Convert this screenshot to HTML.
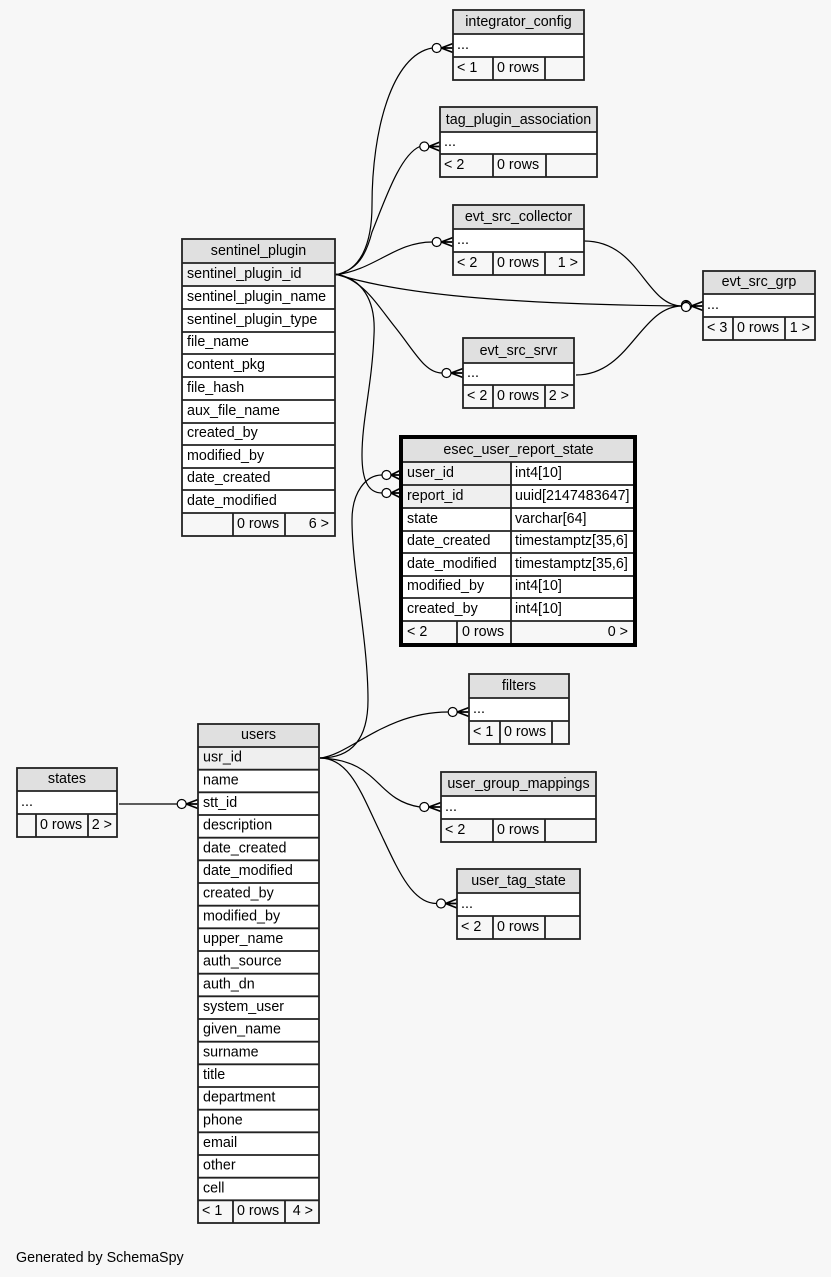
<!DOCTYPE html>
<html><head><meta charset="utf-8"><style>
html,body{margin:0;padding:0;background:#f7f7f7;}
svg{display:block;}
text{font-family:"Liberation Sans",Arial,sans-serif;font-size:14.3px;fill:#000;}
.c{text-anchor:middle}.r{text-anchor:end}
.b{fill:none;stroke:#222;stroke-width:1.8}
.e{fill:none;stroke:#000;stroke-width:1.2}
.m{fill:#fff;stroke:#000;stroke-width:1.2}
.cf{fill:none;stroke:#000;stroke-width:1.7}
.h{fill:#e0e0e0}.k{fill:#efefef}.w{fill:#fff}.f{fill:#f7f7f7}
</style></head><body>
<svg width="831" height="1277" viewBox="0 0 831 1277" xmlns="http://www.w3.org/2000/svg">
<rect x="0" y="0" width="831" height="1277" fill="#f7f7f7"/>

<!-- edges -->
<path class="e" d="M335,275 C360,271 372,245 372,205 C372,130 392,55 432.2,48"/>
<path class="e" d="M335,275 C358,270 366,255 372,232 C385,200 400,155 419.8,146.5"/>
<path class="e" d="M335,275 C375,270 395,242 432.2,242"/>
<path class="e" d="M335,274 C390,291 480,304 682.2,306"/>
<path class="e" d="M335,274 C362,279 376,303 395,327 C415,352 425,373 442,373"/>
<path class="e" d="M335,274 C362,278 376,300 374,335 C372,385 362,420 362,455 C362,480 368,493 382,493"/>
<path class="e" d="M320,758 C355,758 368,735 368,700 C368,640 352,570 352,520 C352,492 366,475 382,475"/>
<path class="e" d="M320,758 C350,755 385,712 448.2,712"/>
<path class="e" d="M320,758 C380,760 375,800 419.8,807"/>
<path class="e" d="M320,758 C350,758 362,795 380,832 C398,870 412,903.5 436.5,903.5"/>
<path class="e" d="M119,804 L177.2,804"/>
<path class="e" d="M584,241 C640,241 645,306 682.2,306"/>
<path class="e" d="M576,375 C630,375 640,306 682.2,306"/>

<!-- markers -->
<circle class="m" cx="436.7" cy="48" r="4.5"/><path class="cf" d="M441.2,48L453,43.5M441.2,48L453,48M441.2,48L453,52.5"/>
<circle class="m" cx="424.3" cy="146.5" r="4.5"/><path class="cf" d="M428.8,146.5L440,142M428.8,146.5L440,146.5M428.8,146.5L440,151"/>
<circle class="m" cx="436.7" cy="242" r="4.5"/><path class="cf" d="M441.2,242L453,237.5M441.2,242L453,242M441.2,242L453,246.5"/>
<circle class="m" cx="686" cy="305" r="4.5"/><circle class="m" cx="687" cy="306" r="4.5"/><circle class="m" cx="686" cy="307" r="4.5"/><path class="cf" d="M691.2,306L703,301.5M691.2,306L703,306M691.2,306L703,310.5"/>
<circle class="m" cx="446.5" cy="373" r="4.5"/><path class="cf" d="M451,373L463,368.5M451,373L463,373M451,373L463,377.5"/>
<circle class="m" cx="386.5" cy="475" r="4.5"/><path class="cf" d="M391,475L400,470.5M391,475L400,475M391,475L400,479.5"/>
<circle class="m" cx="386.5" cy="493" r="4.5"/><path class="cf" d="M391,493L400,488.5M391,493L400,493M391,493L400,497.5"/>
<circle class="m" cx="452.7" cy="712" r="4.5"/><path class="cf" d="M457.2,712L469,707.5M457.2,712L469,712M457.2,712L469,716.5"/>
<circle class="m" cx="424.3" cy="807" r="4.5"/><path class="cf" d="M428.8,807L441,802.5M428.8,807L441,807M428.8,807L441,811.5"/>
<circle class="m" cx="441" cy="903.5" r="4.5"/><path class="cf" d="M445.5,903.5L457,899M445.5,903.5L457,903.5M445.5,903.5L457,908"/>
<circle class="m" cx="181.7" cy="804" r="4.5"/><path class="cf" d="M186.2,804L198,799.5M186.2,804L198,804M186.2,804L198,808.5"/>

<!-- integrator_config -->
<rect class="h" x="453" y="10" width="131" height="24"/><rect class="w" x="453" y="34" width="131" height="23"/><rect class="f" x="453" y="57" width="131" height="23"/>
<rect class="b" x="453" y="10" width="131" height="70"/>
<path class="b" d="M453,34H584M453,57H584M493,57V80M545,57V80"/>
<text class="c" x="518.5" y="26">integrator_config</text><text x="457" y="49">...</text><text x="457" y="72">&lt; 1</text><text x="497" y="72">0 rows</text>

<!-- tag_plugin_association -->
<rect class="h" x="440" y="107" width="157" height="25"/><rect class="w" x="440" y="132" width="157" height="22"/><rect class="f" x="440" y="154" width="157" height="23"/>
<rect class="b" x="440" y="107" width="157" height="70"/>
<path class="b" d="M440,132H597M440,154H597M493,154V177M546,154V177"/>
<text class="c" x="518.5" y="124">tag_plugin_association</text><text x="444" y="146">...</text><text x="444" y="169">&lt; 2</text><text x="497" y="169">0 rows</text>

<!-- evt_src_collector -->
<rect class="h" x="453" y="205" width="131" height="24"/><rect class="w" x="453" y="229" width="131" height="23"/><rect class="f" x="453" y="252" width="131" height="23"/>
<rect class="b" x="453" y="205" width="131" height="70"/>
<path class="b" d="M453,229H584M453,252H584M493,252V275M545,252V275"/>
<text class="c" x="518.5" y="221">evt_src_collector</text><text x="457" y="244">...</text><text x="457" y="267">&lt; 2</text><text x="497" y="267">0 rows</text><text class="r" x="578" y="267">1 &gt;</text>

<!-- evt_src_grp -->
<rect class="h" x="703" y="271" width="112" height="23"/><rect class="w" x="703" y="294" width="112" height="23"/><rect class="f" x="703" y="317" width="112" height="23"/>
<rect class="b" x="703" y="271" width="112" height="69"/>
<path class="b" d="M703,294H815M703,317H815M733,317V340M785,317V340"/>
<text class="c" x="759" y="286">evt_src_grp</text><text x="707" y="309">...</text><text x="707" y="332">&lt; 3</text><text x="737" y="332">0 rows</text><text class="r" x="810" y="332">1 &gt;</text>

<!-- evt_src_srvr -->
<rect class="h" x="463" y="338" width="111" height="25"/><rect class="w" x="463" y="363" width="111" height="22"/><rect class="f" x="463" y="385" width="111" height="23"/>
<rect class="b" x="463" y="338" width="111" height="70"/>
<path class="b" d="M463,363H574M463,385H574M493,385V408M545,385V408"/>
<text class="c" x="518.5" y="355">evt_src_srvr</text><text x="467" y="377">...</text><text x="467" y="400">&lt; 2</text><text x="497" y="400">0 rows</text><text class="r" x="569" y="400">2 &gt;</text>

<!-- sentinel_plugin -->
<rect class="h" x="182" y="239" width="153" height="24"/><rect class="k" x="182" y="263" width="153" height="23"/><rect class="w" x="182" y="286" width="153" height="227"/><rect class="f" x="182" y="513" width="153" height="23"/>
<rect class="b" x="182" y="239" width="153" height="297"/>
<path class="b" d="M182,263H335M182,286H335M182,309H335M182,332H335M182,354H335M182,377H335M182,400H335M182,423H335M182,445H335M182,468H335M182,490H335M182,513H335M233,513V536M285,513V536"/>
<text class="c" x="258.5" y="255">sentinel_plugin</text>
<text x="187" y="278">sentinel_plugin_id</text>
<text x="187" y="301">sentinel_plugin_name</text>
<text x="187" y="324">sentinel_plugin_type</text>
<text x="187" y="346">file_name</text>
<text x="187" y="369">content_pkg</text>
<text x="187" y="392">file_hash</text>
<text x="187" y="415">aux_file_name</text>
<text x="187" y="437">created_by</text>
<text x="187" y="460">modified_by</text>
<text x="187" y="482">date_created</text>
<text x="187" y="505">date_modified</text>
<text x="237" y="528">0 rows</text><text class="r" x="329" y="528">6 &gt;</text>

<!-- esec_user_report_state -->
<rect class="h" x="403" y="439" width="231" height="23"/>
<rect class="k" x="403" y="462" width="108" height="46"/><rect class="w" x="511" y="462" width="123" height="46"/>
<rect class="w" x="403" y="508" width="231" height="113"/><rect class="f" x="403" y="621" width="231" height="23"/>
<path class="b" d="M403,462H634M403,485H634M403,508H634M403,531H634M403,553H634M403,576H634M403,598H634M403,621H634M511,462V644M457,621V644"/>
<rect x="401" y="437" width="234" height="208" fill="none" stroke="#000" stroke-width="4"/>
<text class="c" x="518.5" y="454">esec_user_report_state</text>
<text x="407" y="477">user_id</text><text x="515" y="477">int4[10]</text>
<text x="407" y="500">report_id</text><text x="515" y="500">uuid[2147483647]</text>
<text x="407" y="523">state</text><text x="515" y="523">varchar[64]</text>
<text x="407" y="545">date_created</text><text x="515" y="545">timestamptz[35,6]</text>
<text x="407" y="568">date_modified</text><text x="515" y="568">timestamptz[35,6]</text>
<text x="407" y="590">modified_by</text><text x="515" y="590">int4[10]</text>
<text x="407" y="613">created_by</text><text x="515" y="613">int4[10]</text>
<text x="407" y="636">&lt; 2</text><text x="462" y="636">0 rows</text><text class="r" x="628" y="636">0 &gt;</text>

<!-- filters -->
<rect class="h" x="469" y="674" width="100" height="24"/><rect class="w" x="469" y="698" width="100" height="23"/><rect class="f" x="469" y="721" width="100" height="23"/>
<rect class="b" x="469" y="674" width="100" height="70"/>
<path class="b" d="M469,698H569M469,721H569M500,721V744M552,721V744"/>
<text class="c" x="519" y="690">filters</text><text x="473" y="713">...</text><text x="473" y="736">&lt; 1</text><text x="504" y="736">0 rows</text>

<!-- user_group_mappings -->
<rect class="h" x="441" y="772" width="155" height="24"/><rect class="w" x="441" y="796" width="155" height="23"/><rect class="f" x="441" y="819" width="155" height="23"/>
<rect class="b" x="441" y="772" width="155" height="70"/>
<path class="b" d="M441,796H596M441,819H596M493,819V842M545,819V842"/>
<text class="c" x="518.5" y="788">user_group_mappings</text><text x="445" y="811">...</text><text x="445" y="834">&lt; 2</text><text x="497" y="834">0 rows</text>

<!-- user_tag_state -->
<rect class="h" x="457" y="869" width="123" height="24"/><rect class="w" x="457" y="893" width="123" height="23"/><rect class="f" x="457" y="916" width="123" height="23"/>
<rect class="b" x="457" y="869" width="123" height="70"/>
<path class="b" d="M457,893H580M457,916H580M493,916V939M545,916V939"/>
<text class="c" x="518.5" y="885">user_tag_state</text><text x="461" y="908">...</text><text x="461" y="931">&lt; 2</text><text x="497" y="931">0 rows</text>

<!-- states -->
<rect class="h" x="17" y="768" width="100" height="23"/><rect class="w" x="17" y="791" width="100" height="23"/><rect class="f" x="17" y="814" width="100" height="23"/>
<rect class="b" x="17" y="768" width="100" height="69"/>
<path class="b" d="M17,791H117M17,814H117M36,814V837M88,814V837"/>
<text class="c" x="67" y="783">states</text><text x="21" y="806">...</text><text x="40" y="829">0 rows</text><text class="r" x="112" y="829">2 &gt;</text>

<!-- users -->
<rect class="h" x="198" y="724" width="121" height="23"/><rect class="k" x="198" y="747" width="121" height="22.7"/><rect class="w" x="198" y="769.7" width="121" height="430.6"/><rect class="f" x="198" y="1200.3" width="121" height="22.7"/>
<rect class="b" x="198" y="724" width="121" height="499"/>
<path class="b" d="M198,747H319M198,769.7H319M198,792.3H319M198,815H319M198,837.7H319M198,860.3H319M198,883H319M198,905.7H319M198,928.3H319M198,951H319M198,973.7H319M198,996.3H319M198,1019H319M198,1041.7H319M198,1064.3H319M198,1087H319M198,1109.7H319M198,1132.3H319M198,1155H319M198,1177.7H319M198,1200.3H319M233,1200.3V1223M285,1200.3V1223"/>
<text class="c" x="258.5" y="739">users</text>
<text x="203" y="761.7">usr_id</text>
<text x="203" y="784.3">name</text>
<text x="203" y="807">stt_id</text>
<text x="203" y="829.7">description</text>
<text x="203" y="852.3">date_created</text>
<text x="203" y="875">date_modified</text>
<text x="203" y="897.7">created_by</text>
<text x="203" y="920.3">modified_by</text>
<text x="203" y="943">upper_name</text>
<text x="203" y="965.7">auth_source</text>
<text x="203" y="988.3">auth_dn</text>
<text x="203" y="1011">system_user</text>
<text x="203" y="1033.7">given_name</text>
<text x="203" y="1056.3">surname</text>
<text x="203" y="1079">title</text>
<text x="203" y="1101.7">department</text>
<text x="203" y="1124.3">phone</text>
<text x="203" y="1147">email</text>
<text x="203" y="1169.7">other</text>
<text x="203" y="1192.3">cell</text>
<text x="202" y="1215">&lt; 1</text><text x="237" y="1215">0 rows</text><text class="r" x="313" y="1215">4 &gt;</text>

<text x="16" y="1262">Generated by SchemaSpy</text>
</svg>
</body></html>
